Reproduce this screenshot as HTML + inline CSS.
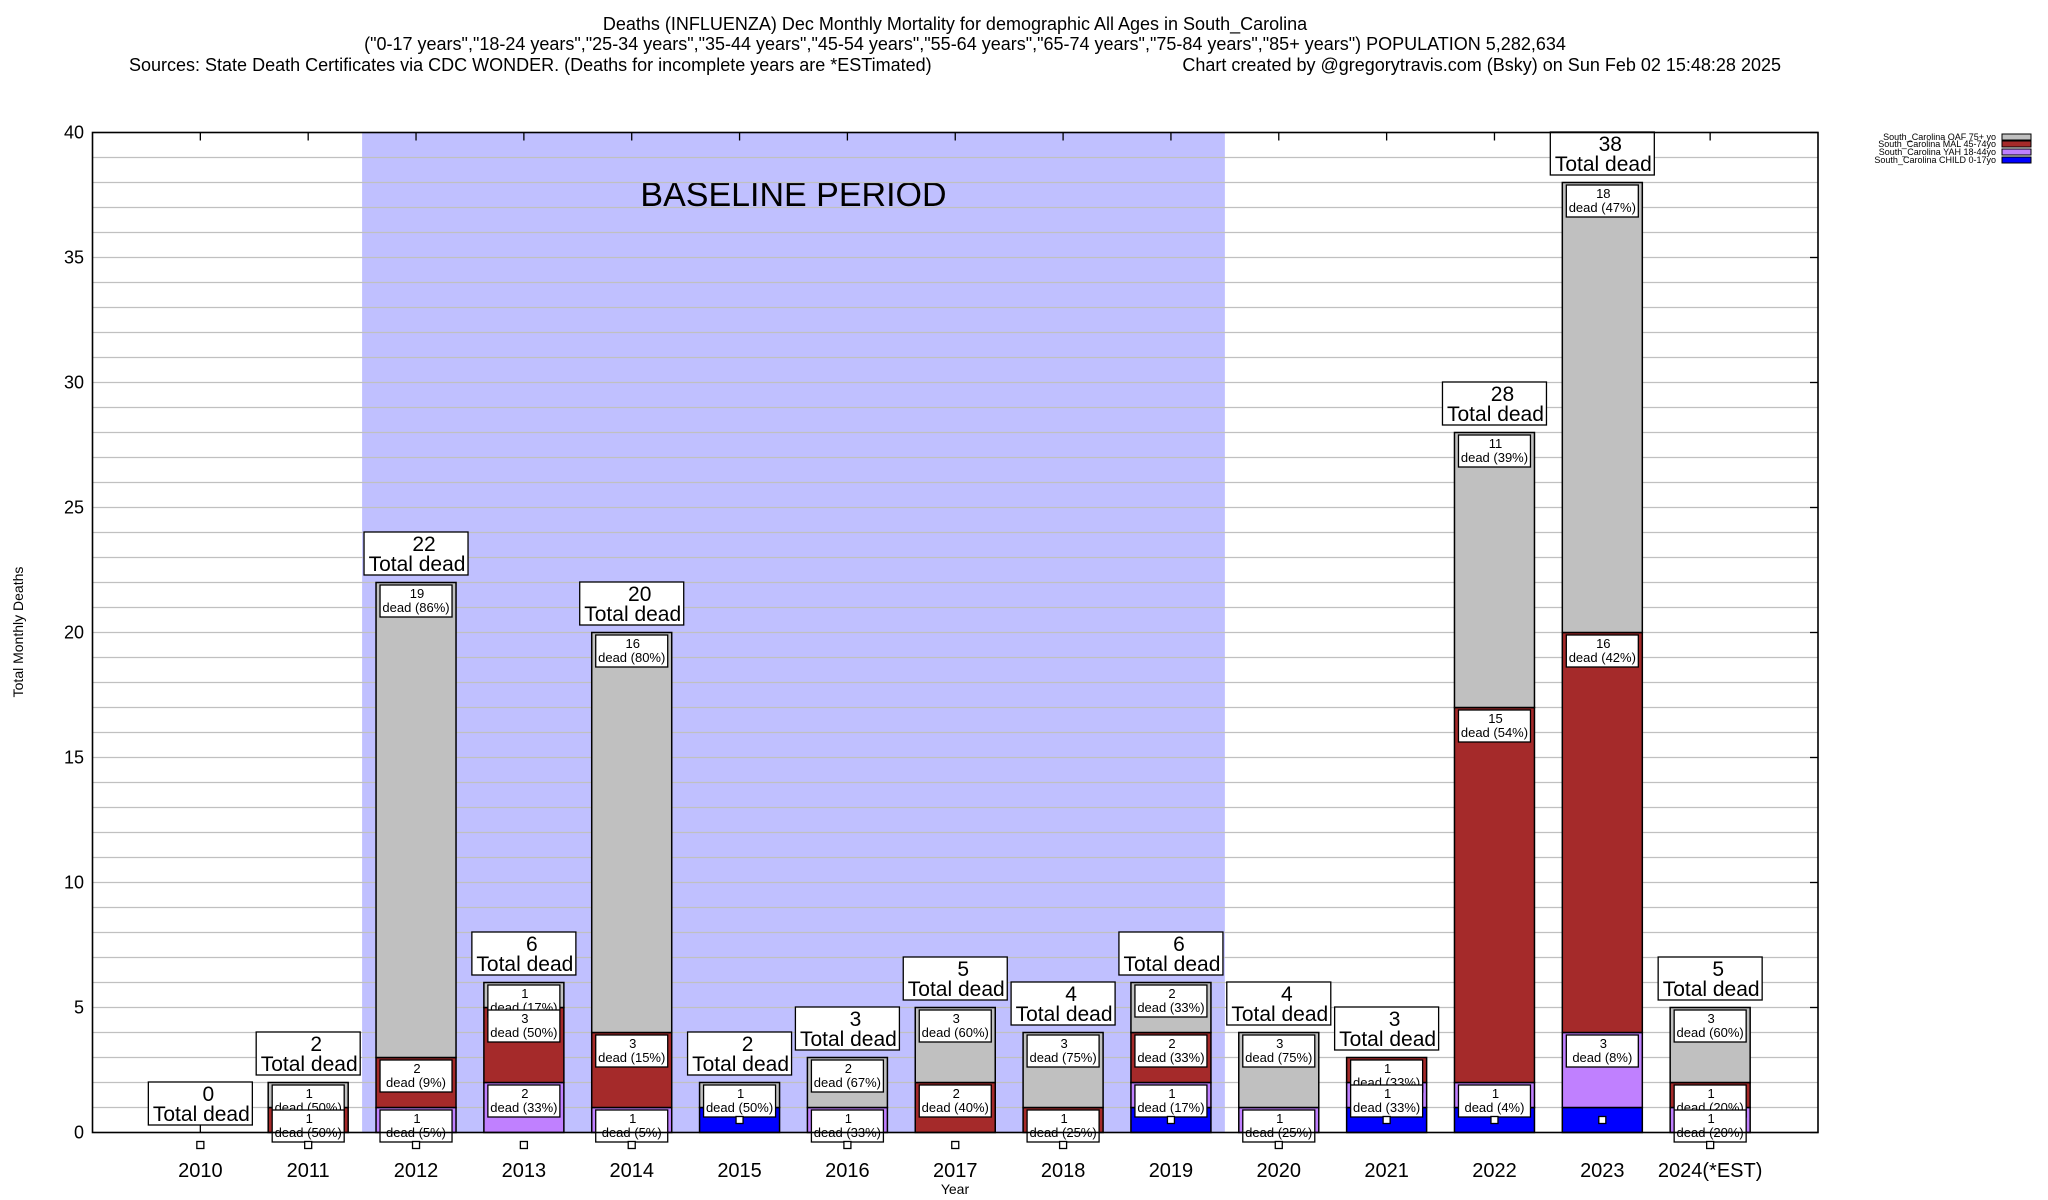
<!DOCTYPE html>
<html><head><meta charset="utf-8"><style>
html,body{margin:0;padding:0;background:#fff;}
svg{display:block;font-family:"Liberation Sans",sans-serif;}
</style></head><body>
<svg id="chart" width="2048" height="1200" viewBox="0 0 2048 1200">
<g text-anchor="middle" font-size="18">
<text x="955" y="30">Deaths (INFLUENZA) Dec Monthly Mortality for demographic All Ages in South_Carolina</text>
<text x="965" y="50">("0-17 years","18-24 years","25-34 years","35-44 years","45-54 years","55-64 years","65-74 years","75-84 years","85+ years") POPULATION 5,282,634</text>
<text x="129" y="71" text-anchor="start">Sources: State Death Certificates via CDC WONDER. (Deaths for incomplete years are *ESTimated)</text>
<text x="1781" y="71" text-anchor="end">Chart created by @gregorytravis.com (Bsky) on Sun Feb 02 15:48:28 2025</text>
</g>
<g id="plot"></g>
<text x="23" y="632" font-size="14" text-anchor="middle" transform="rotate(-90 23 632)">Total Monthly Deaths</text>
<text x="955" y="1194" font-size="14" text-anchor="middle">Year</text>
<g font-size="9" text-anchor="end">
<g><text x="1996" y="140">South_Carolina OAF 75+ yo</text><rect x="2002" y="134" width="29" height="6" fill="#c0c0c0" stroke="#000"/></g>
<g><text x="1996" y="147">South_Carolina MAL 45-74yo</text><rect x="2002" y="141" width="29" height="6" fill="#a52a2a" stroke="#000"/></g>
<g><text x="1996" y="155">South_Carolina YAH 18-44yo</text><rect x="2002" y="149" width="29" height="6" fill="#c080ff" stroke="#000"/></g>
<g><text x="1996" y="163">South_Carolina CHILD 0-17yo</text><rect x="2002" y="157" width="29" height="6" fill="#0000ff" stroke="#000"/></g>
</g>
</svg>
<script>
const years = ["2010","2011","2012","2013","2014","2015","2016","2017","2018","2019","2020","2021","2022","2023","2024(*EST)"];
const oaf   = [0,1,19,1,16,1,2,3,3,2,3,0,11,18,3];
const mal   = [0,1,2,3,3,0,0,2,1,2,0,1,15,16,1];
const yah   = [0,0,1,2,1,0,1,0,0,1,1,1,1,3,1];
const child = [0,0,0,0,0,1,0,0,0,1,0,1,1,1,0];
const yTicks = [0,5,10,15,20,25,30,35,40];
const baselineStart = 1.5, baselineEnd = 9.5;

const NS="http://www.w3.org/2000/svg";
const L=92.5,R=1818,T=132.5,B=1132.5;
const xs=i=>L+(i+1)*(R-L)/16;
const ys=v=>B-v*(B-T)/40;
const g=document.getElementById('plot');
function mk(tag,attrs,parent){const e=document.createElementNS(NS,tag);for(const k in attrs)e.setAttribute(k,attrs[k]);(parent||g).appendChild(e);return e;}

// baseline shading
const bl=mk('rect',{x:xs(baselineStart),y:T,width:xs(baselineEnd)-xs(baselineStart),height:B-T,fill:'#c0c0ff'});


const blt=mk('text',{x:(xs(baselineStart)+xs(baselineEnd))/2,y:206,'font-size':34,'text-anchor':'middle'});
blt.textContent='BASELINE PERIOD';



// grid
for(let v=1;v<40;v++){
  const gl=mk('line',{x1:L,x2:R,y1:ys(v),y2:ys(v),stroke:'#c0c0c0','stroke-width':1.3});
  
  
}
yTicks.forEach(v=>{
  const t=mk('text',{x:84,y:ys(v)+6,'font-size':18,'text-anchor':'end'});
  t.textContent=v;
  
  
  mk('line',{x1:R-8,x2:R,y1:ys(v),y2:ys(v),stroke:'#000','stroke-width':1.3});
});
years.forEach((yr,i)=>{
  mk('line',{x1:xs(i),x2:xs(i),y1:T,y2:T+8,stroke:'#000','stroke-width':1.3});
  const t=mk('text',{x:xs(i),y:1177,'font-size':20,'text-anchor':'middle'});
  t.textContent=yr;
  
  
});

const series=[[child,'#0000ff','child'],[yah,'#c080ff','yah'],[mal,'#a52a2a','mal'],[oaf,'#c0c0c0','oaf']];
const hw=40;
// bars
years.forEach((yr,i)=>{
  let base=0;
  series.forEach(([arr,col,nm])=>{
    const v=arr[i];
    if(v>0){
      const r=mk('rect',{x:xs(i)-hw,y:ys(base+v),width:2*hw,height:ys(base)-ys(base+v),fill:col,stroke:'#000','stroke-width':1.5});
      
      
    }
    base+=v;
  });
});
// segment labels: oaf, mal, yah order (later drawn on top)
years.forEach((yr,i)=>{
  const tot=oaf[i]+mal[i]+yah[i]+child[i];
  const tops=[child[i],child[i]+yah[i],child[i]+yah[i]+mal[i],tot];
  [[oaf,3,'oaf'],[mal,2,'mal'],[yah,1,'yah']].forEach(([arr,k,nm])=>{
    const v=arr[i]; if(v<=0) return;
    const top=tops[k]-0.1;
    const gg=mk('g',{});
    
    
    mk('rect',{x:xs(i)-36,y:ys(top),width:72,height:32,fill:'#fff',stroke:'#000','stroke-width':1.3},gg);
    const a=mk('text',{x:xs(i)+1,y:ys(top)+13,'font-size':13,'text-anchor':'middle'},gg);a.textContent=v;
    const b=mk('text',{x:xs(i),y:ys(top)+27,'font-size':13,'text-anchor':'middle'},gg);b.textContent='dead ('+Math.round(v/tot*100)+'%)';
  });
  const sq=mk('rect',{x:xs(i)-3.5,y:ys(child[i]-0.5)-3.5,width:7,height:7,fill:'#fff',stroke:'#000','stroke-width':1.3});
  
  
  // total box
  const tg=mk('g',{});
  
  
  const by=ys(tot+0.3);
  mk('rect',{x:xs(i)-52,y:by-43,width:104,height:43,fill:'#fff',stroke:'#000','stroke-width':1.3},tg);
  const n=mk('text',{x:xs(i)+8,y:by-24,'font-size':21,'text-anchor':'middle'},tg);n.textContent=tot;
  const td=mk('text',{x:xs(i)+1,y:by-4,'font-size':21,'text-anchor':'middle'},tg);td.textContent='Total dead';
  if(tot===0) mk('line',{x1:xs(i),x2:xs(i),y1:by,y2:B,stroke:'#000','stroke-width':1.3});
});
// frame
const fr=mk('rect',{x:L,y:T,width:R-L,height:B-T,fill:'none',stroke:'#000','stroke-width':1.6});


</script>
</body></html>
